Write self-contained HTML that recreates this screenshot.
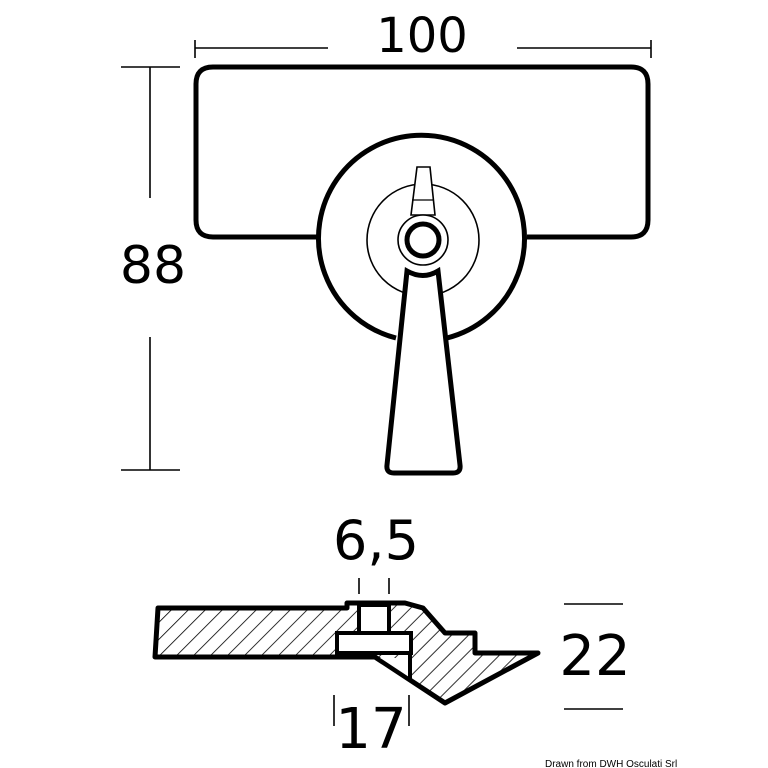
<!DOCTYPE html>
<html><head><style>body{margin:0;background:#fff}svg{display:block}</style></head><body>
<svg width="768" height="768" viewBox="0 0 768 768" xmlns="http://www.w3.org/2000/svg">
<defs>
<pattern id="h" width="12" height="12" patternUnits="userSpaceOnUse" patternTransform="rotate(45)">
<rect width="12" height="12" fill="#fff"/><line x1="0" y1="0" x2="0" y2="12" stroke="#000" stroke-width="1.6"/>
</pattern>
</defs>
<g fill="none" stroke="#000">
<g stroke-width="1.6">
<line x1="195" y1="40" x2="195" y2="58"/><line x1="651" y1="40" x2="651" y2="58"/>
<line x1="195" y1="48" x2="328" y2="48"/><line x1="517" y1="48" x2="651" y2="48"/>
<line x1="121" y1="67" x2="180" y2="67"/><line x1="121" y1="470" x2="180" y2="470"/>
<line x1="150" y1="67" x2="150" y2="198"/><line x1="150" y1="337" x2="150" y2="470"/>
<line x1="359" y1="578" x2="359" y2="594"/><line x1="389" y1="578" x2="389" y2="594"/>
<line x1="564" y1="604" x2="623" y2="604"/><line x1="564" y1="709" x2="623" y2="709"/>
<line x1="334" y1="695" x2="334" y2="726"/><line x1="409" y1="695" x2="409" y2="726"/>
</g>
<path d="M329,237 H213 Q196,237 196,220 V84 Q196,67 213,67 H631 Q648,67 648,84 V220 Q648,237 631,237 H527" stroke-width="5"/>
<path d="M396,338 A103,103 0 1 1 447,338" stroke-width="5" fill="#fff"/>
<circle cx="423" cy="240" r="56" stroke-width="1.6"/>
<path d="M417,167 H430 L435,215 H411 Z" stroke-width="1.6" fill="#fff"/>
<line x1="412" y1="200" x2="434" y2="200" stroke-width="1.2"/>
<circle cx="423" cy="240" r="25" stroke-width="1.6" fill="#fff"/>
<circle cx="423" cy="240" r="16" stroke-width="5"/>
<path d="M407,271 Q423,280 438,271 L460,465 Q461,473 453,473 H394 Q386,473 387,465 Z" stroke-width="5" fill="#fff"/>
<path d="M158,608 H347 V603 H405 L423,608 L445,633 H475 V653 H538 L445,703 L375,657 H155 Z" fill="url(#h)" stroke-width="5" stroke-linejoin="round"/>
<path d="M377,658 H410 V680 Z" fill="#fff" stroke="none"/>
<path d="M375,657 L410,680 V653" stroke-width="4"/>
<rect x="359" y="605" width="30" height="28" fill="#fff" stroke-width="4"/>
<rect x="337" y="633" width="74" height="20" fill="#fff" stroke-width="4"/>
</g>
<g font-family="DejaVu Sans, sans-serif" fill="#000">
<text x="422" y="52" font-size="48" text-anchor="middle">100</text>
<text x="153" y="283" font-size="52" text-anchor="middle">88</text>
<text x="376" y="559" font-size="54" text-anchor="middle">6,5</text>
<text x="595" y="675" font-size="56" text-anchor="middle">22</text>
<text x="371" y="748" font-size="56" text-anchor="middle">17</text>
<text x="545" y="767" font-size="10" font-family="Liberation Sans, sans-serif">Drawn from DWH Osculati Srl</text>
</g>
</svg>
</body></html>
